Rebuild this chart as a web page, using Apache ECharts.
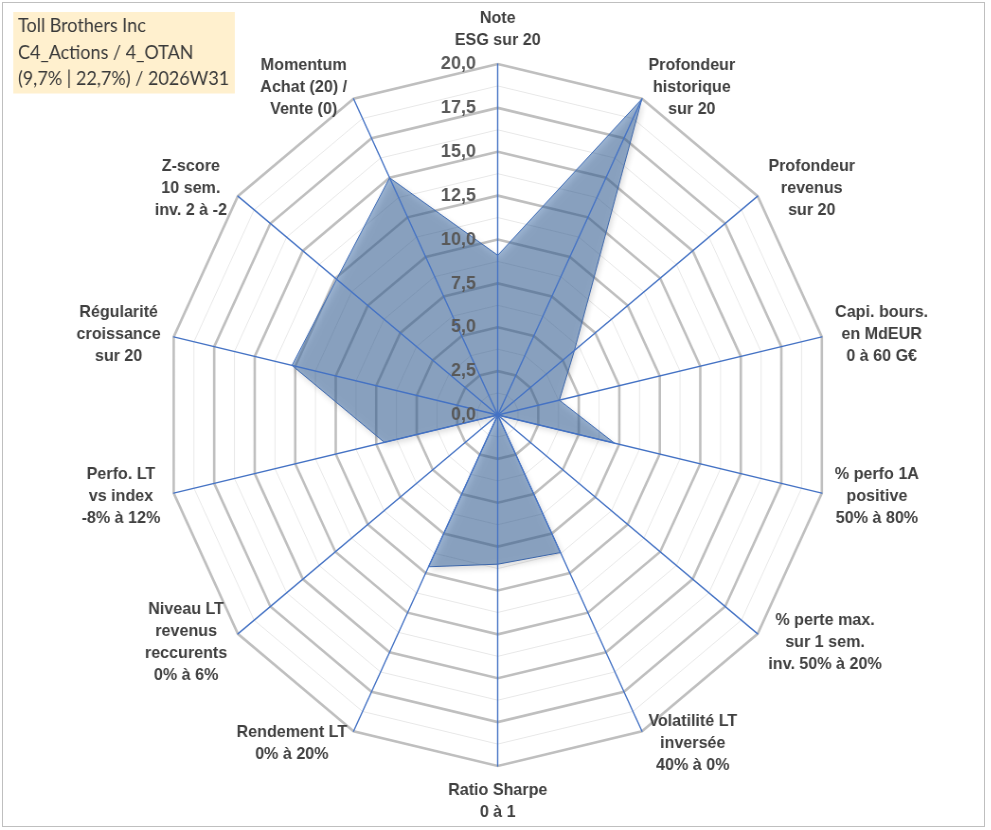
<!DOCTYPE html>
<html><head><meta charset="utf-8">
<script src="https://cdn.jsdelivr.net/npm/echarts@6/dist/echarts.min.js"></script>
<style>
html,body{margin:0;padding:0;overflow:hidden;background:#fff;width:991px;height:830px;}
#frame{position:absolute;left:2px;top:2px;width:983px;height:825px;border:1px solid #BFBFBF;box-sizing:border-box;}
#wrap{position:absolute;left:0;top:0;width:1046px;height:830px;transform:scaleX(0.947);transform-origin:0 0;}
#chart{width:1046px;height:830px;}
</style></head><body>
<div id="frame"></div>
<div id="wrap"><div id="chart"></div></div>
<script>
// ---- data ----
const titleLines = ['Toll Brothers Inc', 'C4_Actions / 4_OTAN', '(9,7% | 22,7%) / 2026W31'];
const indicatorNames = [
  'Note\nESG sur 20',
  'Profondeur\nhistorique\nsur 20',
  'Profondeur\nrevenus\nsur 20',
  'Capi. bours.\nen MdEUR\n0 à 60 G€',
  '% perfo 1A\npositive\n50% à 80%',
  '% perte max.\nsur 1 sem.\ninv. 50% à 20%',
  'Volatilité LT\ninversée\n40% à 0%',
  'Ratio Sharpe\n0 à 1',
  'Rendement LT\n0% à 20%',
  'Niveau LT\nrevenus\nreccurents\n0% à 6%',
  'Perfo. LT\nvs index\n-8% à 12%',
  'Régularité\ncroissance\nsur 20',
  'Z-score\n10 sem.\ninv. 2 à -2',
  'Momentum\nAchat (20) /\nVente (0)'
];
const scoreValues = [9.1, 20, 5.9, 3.8, 7.2, 0, 8.7, 8.5, 9.6, 0, 7.0, 12.7, 12.4, 15.0];
const axisMin = 0;
const axisMax = 20;
const tickStep = 2.5;

// ---- layout / style ----
const CX = 525.6, CY = 415, R = 351;
const nameFont = 'bold 17px "Liberation Sans"';
const nameColor = '#404040';

// ECharts radar runs counter-clockwise; reorder so the axes run clockwise from the top
const order = [0].concat(indicatorNames.map((_, i) => i).slice(1).reverse());

// measure widest line of each name so lines can be centred inside their block
const ctx = document.createElement('canvas').getContext('2d');
ctx.font = nameFont;
const rich = {};
indicatorNames.forEach((n, i) => {
  const w = Math.max(...n.split('\n').map(l => ctx.measureText(l).width));
  rich['n' + i] = { width: Math.ceil(w) + 2, align: 'center', fontFamily: 'Liberation Sans', fontWeight: 'bold', fontSize: 17, lineHeight: 22, color: nameColor };
});

const splitCount = Math.round((axisMax - axisMin) / tickStep);
function mkIndicators(extra) {
  return order.map((i, k) => Object.assign({ name: indicatorNames[i], min: axisMin, max: axisMax }, extra ? extra(i, k) : {}));
}
const base = { center: [CX, CY], radius: R, shape: 'polygon', startAngle: 90 };

const chart = echarts.init(document.getElementById('chart'), null, { renderer: 'canvas' });
chart.setOption({
  animation: false,
  backgroundColor: 'transparent',
  title: {
    text: titleLines.join('\n'),
    left: 14, top: 12,
    padding: [1, 6, 1, 5],
    backgroundColor: '#FFF0CE',
    textStyle: { fontFamily: 'Lato', fontWeight: 'normal', fontSize: 19, lineHeight: 26.5, color: '#3A3A3A' }
  },
  radar: [
    Object.assign({}, base, {
      z: 0,
      indicator: mkIndicators(),
      splitNumber: splitCount * 2,
      axisName: { show: false },
      axisLine: { show: false },
      axisTick: { show: false },
      axisLabel: { show: false },
      splitArea: { show: false },
      splitLine: { lineStyle: { color: '#E8E8E8', width: 1 } }
    }),
    Object.assign({}, base, {
      z: 1,
      indicator: mkIndicators(),
      splitNumber: splitCount,
      nameGap: 13,
      axisName: {
        show: true,
        formatter: function (name) {
          const i = indicatorNames.indexOf(name);
          return name.split('\n').map(l => '{n' + i + '|' + l + '}').join('\n');
        },
        rich: rich,
        color: nameColor, fontFamily: 'Liberation Sans', fontWeight: 'bold', fontSize: 17, lineHeight: 22
      },
      axisLine: { show: false },
      axisTick: { show: false },
      axisLabel: { show: false },
      splitArea: { show: false },
      splitLine: { lineStyle: { color: '#BFBFBF', width: 2.6 } }
    }),
    Object.assign({}, base, {
      z: 3,
      indicator: mkIndicators((i) => ({ axisLabel: { show: i === 0 } })),
      splitNumber: splitCount,
      axisName: { show: false },
      axisLine: { show: true, lineStyle: { color: '#4472C4', width: 1.4 } },
      axisTick: { show: false },
      axisLabel: {
        show: false, margin: 23,
        formatter: v => v.toFixed(1).replace('.', ','),
        color: '#595959', fontFamily: 'Liberation Sans', fontWeight: 'bold', fontSize: 19
      },
      splitArea: { show: false },
      splitLine: { show: false }
    })
  ],
  series: [{
    type: 'radar',
    radarIndex: 1,
    z: 2,
    symbol: 'none',
    silent: true,
    lineStyle: { color: '#4472C4', width: 1 },
    areaStyle: { color: 'rgba(58,104,164,0.72)', shadowBlur: 6, shadowColor: 'rgba(0,0,0,0.3)', shadowOffsetX: 2, shadowOffsetY: 3 },
    data: [{ value: order.map(i => scoreValues[i]) }]
  }]
});
</script>
</body></html>
